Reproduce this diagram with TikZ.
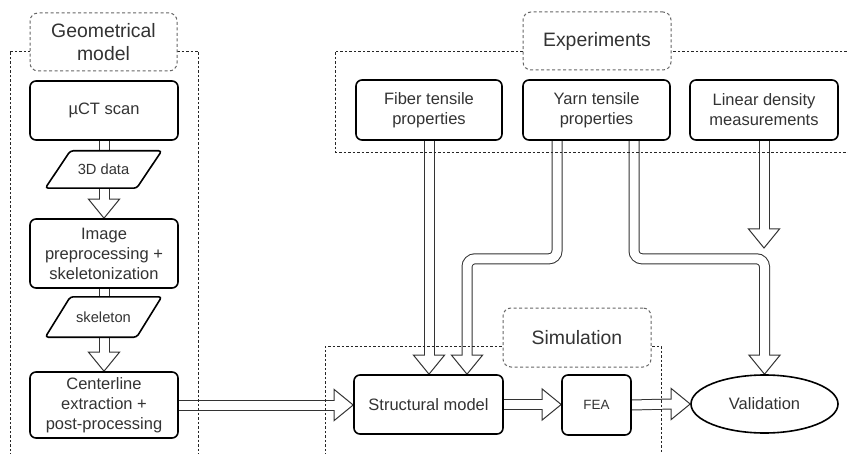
\documentclass[tikz,border=0pt]{standalone}
\usepackage{fontspec}
\setmainfont{Liberation Sans}
\usetikzlibrary{calc,shapes.geometric}
\definecolor{txt}{HTML}{333333}
\definecolor{lblc}{HTML}{666666}
\definecolor{arw}{HTML}{333333}
\pgfdeclarelayer{bg}
\pgfdeclarelayer{mid}
\pgfsetlayers{bg,mid,main}
\newcommand\myvarrow[2]{%
  \draw[shout] (#1) -- ([yshift=19pt]#2);
  \draw[head] ([shift={(-15.5pt,19pt)}]#2) -- ([shift={(15.5pt,19pt)}]#2) -- (#2) -- cycle;
  \draw[shin] (#1) -- ([yshift=18pt]#2);}
\newcommand\myharrow[2]{%
  \draw[shout] (#1) -- ([xshift=-19pt]#2);
  \draw[head] ([shift={(-19pt,15.5pt)}]#2) -- ([shift={(-19pt,-15.5pt)}]#2) -- (#2) -- cycle;
  \draw[shin] (#1) -- ([xshift=-18pt]#2);}
\begin{document}
\begin{tikzpicture}[x=1pt,y=-1pt,
  box/.style={draw=black, line width=1.6pt, rounded corners=6pt, fill=white, text=txt, align=center, inner sep=0pt, font=\fontsize{16.5}{20}\selectfont},
  lbl/.style={draw=lblc, dash pattern=on 3pt off 2.5pt, line width=1pt, rounded corners=8pt, fill=white, text=txt, align=center, inner sep=0pt, font=\fontsize{19.4}{23}\selectfont},
  grp/.style={draw=black!85, line width=0.9pt, dash pattern=on 2.5pt off 2pt},
  data/.style={inner sep=0pt, text=txt, font=\fontsize{14.7}{17}\selectfont},
  para/.style={draw=black, line width=1.6pt, fill=white, rounded corners=3pt},
  shout/.style={line width=11pt, draw=arw},
  shin/.style={line width=9pt, draw=white},
  head/.style={fill=white, draw=arw, line width=1pt, line join=miter},
]
\useasboundingbox (0,0) rectangle (848,454);

% process nodes
\node[box, minimum width=148pt, minimum height=59pt] (mct) at (104,110.5) {µCT scan};
\node[data, minimum width=91pt, minimum height=37pt] (d3) at (103.5,169.5) {3D data};
\node[box, minimum width=148pt, minimum height=69pt] (img) at (104,253.5) {Image\\preprocessing +\\skeletonization};
\node[data, minimum width=91pt, minimum height=40pt] (skel) at (103.5,317) {skeleton};
\node[box, minimum width=148pt, minimum height=66pt] (cl) at (104,405) {Centerline\\extraction +\\post-processing};
\node[box, minimum width=146pt, minimum height=60pt] (fiber) at (429,110) {Fiber tensile\\properties};
\node[box, minimum width=147pt, minimum height=60pt] (yarn) at (596.5,110) {Yarn tensile\\properties};
\node[box, minimum width=148pt, minimum height=60pt] (lin) at (764,110) {Linear density\\measurements};
\node[box, minimum width=149pt, minimum height=59pt] (struct) at (428.5,404.5) {Structural model};
\node[box, minimum width=69pt, minimum height=60pt, font=\fontsize{13.4}{16}\selectfont] (fea) at (596.5,405) {FEA};
\node[box, ellipse, sharp corners, minimum width=147pt, minimum height=58pt] (val) at (764.5,404) {Validation};
\coordinate (linend) at (764,248);

% data parallelograms
\begin{pgfonlayer}{mid}
\draw[para] ([xshift=12.5pt]d3.north west) -- ([xshift=12.5pt]d3.north east) -- ([xshift=-12.5pt]d3.south east) -- ([xshift=-12.5pt]d3.south west) -- cycle;
\draw[para] ([xshift=12.5pt]skel.north west) -- ([xshift=12.5pt]skel.north east) -- ([xshift=-12.5pt]skel.south east) -- ([xshift=-12.5pt]skel.south west) -- cycle;
\end{pgfonlayer}

% hollow arrows
\begin{pgfonlayer}{bg}
\draw[shout] (mct.south) -- (mct.south |- d3.north);
\draw[shin] (mct.south) -- (mct.south |- d3.north);
\myvarrow{d3.south -| img.north}{img.north}
\draw[shout] (img.south) -- (img.south |- skel.north);
\draw[shin] (img.south) -- (img.south |- skel.north);
\myvarrow{skel.south -| cl.north}{cl.north}
\myharrow{cl.east}{cl.east -| struct.west}
\myharrow{struct.east}{struct.east -| fea.west}
\myharrow{fea.east}{val.west}
\myvarrow{fiber.south}{fiber.south |- struct.north}
\myvarrow{lin.south}{linend}
% yarn -> structural model (bent)
\draw[shout, rounded corners=8pt] ([xshift=-39.5pt]yarn.south) -- ++(0,118) -| ([xshift=38.5pt,yshift=19pt]struct.north);
\draw[head] ([shift={(23pt,19pt)}]struct.north) -- ([shift={(54pt,19pt)}]struct.north) -- ([xshift=38.5pt]struct.north) -- cycle;
\draw[shin, rounded corners=8pt] ([xshift=-39.5pt]yarn.south) -- ++(0,118) -| ([xshift=38.5pt,yshift=18pt]struct.north);
% yarn -> validation (bent)
\draw[shout, rounded corners=8pt] ([xshift=37.5pt]yarn.south) -- ++(0,118) -| ([yshift=19pt]val.north);
\draw[head] ([shift={(-15.5pt,19pt)}]val.north) -- ([shift={(15.5pt,19pt)}]val.north) -- (val.north) -- cycle;
\draw[shin, rounded corners=8pt] ([xshift=37.5pt]yarn.south) -- ++(0,118) -| ([yshift=18pt]val.north);
\end{pgfonlayer}

% groups
\draw[grp] (10,460) -- (10,51) -- (198,51) -- (198,460);
\draw[grp] (860,51) -- (335,51) -- (335,152) -- (860,152);
\draw[grp] (325,460) -- (325,346) -- (661,346) -- (661,460);

% group labels
\node[lbl, minimum width=147pt, minimum height=58pt] (geolbl) at (103.5,42) {Geometrical\\model};
\node[lbl, minimum width=148pt, minimum height=58pt] (explbl) at (597,41) {Experiments};
\node[lbl, minimum width=148pt, minimum height=59pt] (simlbl) at (577,337.5) {Simulation};
\end{tikzpicture}
\end{document}
